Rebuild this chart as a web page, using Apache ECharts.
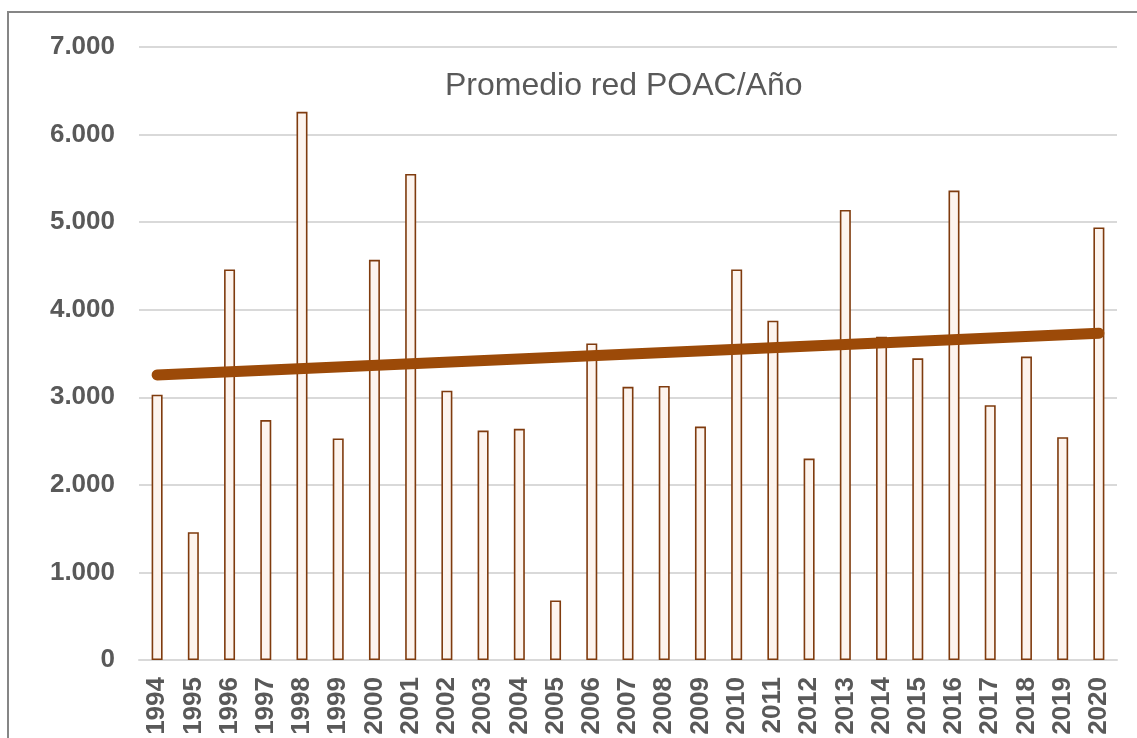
<!DOCTYPE html>
<html>
<head>
<meta charset="utf-8">
<script src="https://cdn.jsdelivr.net/npm/echarts@6/dist/echarts.min.js"></script>
<style>
  html, body { margin: 0; padding: 0; background: #fff; }
  #chart { width: 1137px; height: 738px; }
</style>
</head>
<body>
<div id="chart"></div>
<script>
// años
const years = ["1994", "1995", "1996", "1997", "1998", "1999", "2000", "2001", "2002",
  "2003", "2004", "2005", "2006", "2007", "2008", "2009", "2010", "2011", "2012",
  "2013", "2014", "2015", "2016", "2017", "2018", "2019", "2020"];
// promedio red POAC por año
const promedio = [3030, 1460, 4460, 2740, 6260, 2530, 4570, 5550, 3075,
  2620, 2640, 680, 3615, 3120, 3130, 2665, 4460, 3875, 2300,
  5140, 3690, 3445, 5360, 2910, 3465, 2545, 4940];
// línea de tendencia (extremos)
const tendenciaYears = ["1994", "2020"];
const tendencia = [3255, 3730];
const yTicks = [0, 1000, 2000, 3000, 4000, 5000, 6000, 7000];

const chart = echarts.init(document.getElementById("chart"));
const fmt = (v) => String(v).replace(/\B(?=(\d{3})+(?!\d))/g, ".");

const option = {
  animation: false,
  title: {
    text: "Promedio red POAC/Año",
    left: 440,
    top: 65,
    textStyle: { fontFamily: "Liberation Sans", fontSize: 32, fontWeight: "normal", color: "#595959" },
  },
  graphic: [
    {
      type: "rect",
      shape: { x: 8, y: 12, width: 1300, height: 900 },
      style: { fill: "none", stroke: "#868686", lineWidth: 2 },
      silent: true,
    },
  ],
  grid: { left: 139, right: 20, top: 47, bottom: 78 },
  xAxis: {
    type: "category",
    data: years,
    axisLine: { lineStyle: { color: "#d9d9d9", width: 2 } },
    axisTick: { show: false },
    axisLabel: {
      rotate: 90,
      margin: 17,
      fontFamily: "Liberation Sans",
      fontSize: 26,
      fontWeight: "bold",
      color: "#595959",
    },
  },
  yAxis: {
    type: "value",
    min: yTicks[0],
    max: yTicks[yTicks.length - 1],
    interval: 1000,
    axisLine: { show: false },
    axisTick: { show: false },
    splitLine: { lineStyle: { color: "#d9d9d9", width: 2 } },
    axisLabel: {
      margin: 24,
      fontFamily: "Liberation Sans",
      fontSize: 26,
      fontWeight: "bold",
      color: "#595959",
      formatter: fmt,
    },
  },
  series: [
    {
      type: "bar",
      data: promedio,
      barWidth: 11,
      itemStyle: { color: "#fdf4ee", borderColor: "#7f3b0e", borderWidth: 1.6 },
    },
    {
      type: "line",
      data: tendenciaYears.map((y, i) => [y, tendencia[i]]),
      symbol: "none",
      lineStyle: { color: "#9c4a08", width: 11, cap: "round" },
      z: 5,
    },
  ],
};
chart.setOption(option);
</script>
</body>
</html>
